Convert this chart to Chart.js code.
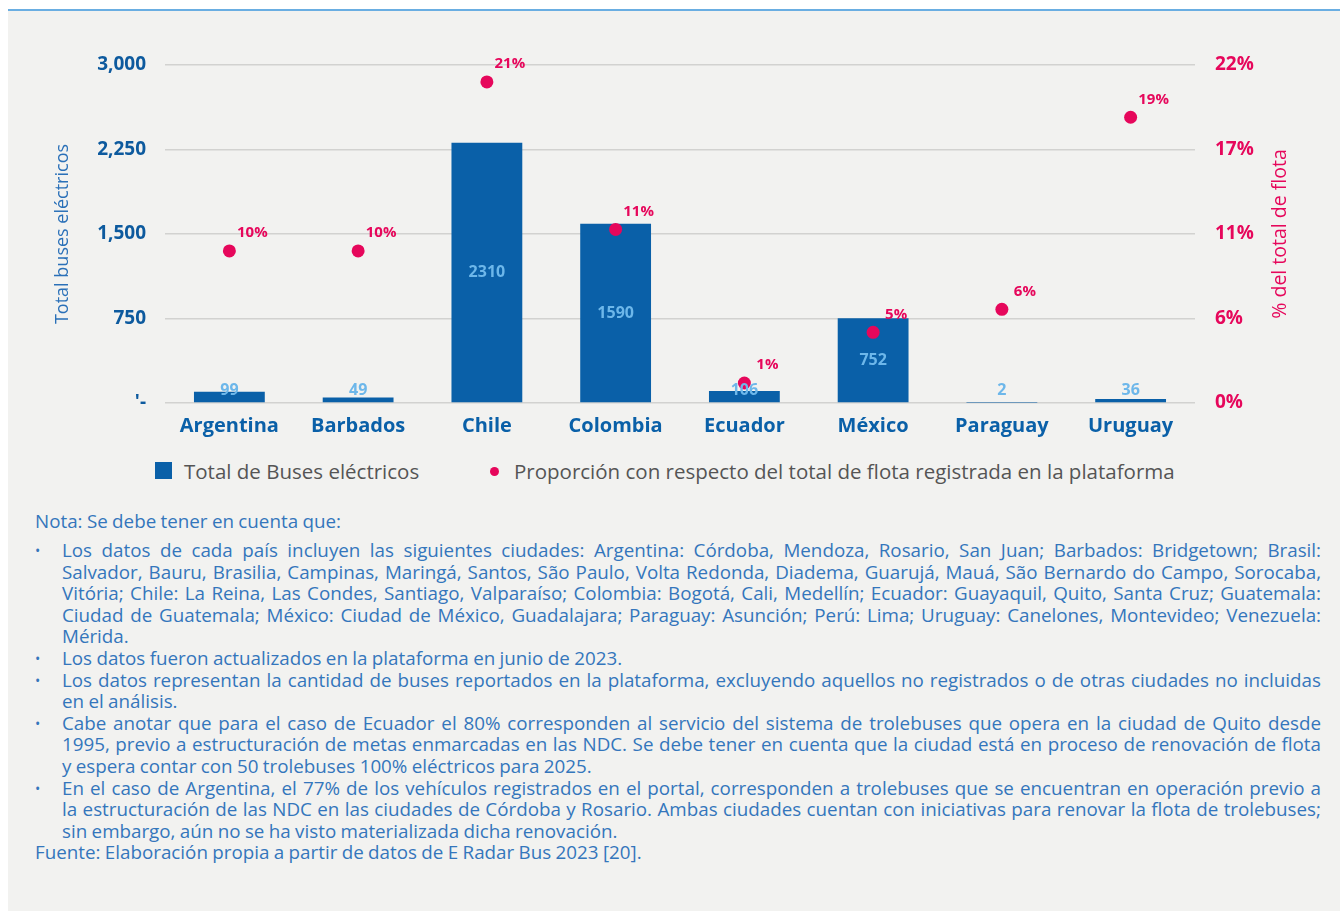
<!DOCTYPE html>
<html lang="es">
<head>
<meta charset="utf-8">
<title>Buses eléctricos por país</title>
<script src="https://cdn.jsdelivr.net/npm/chart.js@4.4.1/dist/chart.umd.min.js"></script>
<style>
    body { margin: 0; background: #ffffff; width: 1340px; height: 915px; position: relative; overflow: hidden; font-family: "Open Sans", sans-serif; }
    #page { position: absolute; left: 8px; top: 9px; right: 0; height: 900px; background: #f2f2f0; border-top: 2px solid #6aaee2; }
    #chart-box { position: absolute; left: 0; top: 2px; width: 1340px; height: 450px; }
    .legend { position: absolute; top: 459px; font-size: 20.5px; color: #555555; line-height: 24px; white-space: nowrap; }
    .legend .sq { position: absolute; left: -29px; top: 3px; width: 17px; height: 17px; background: #0a60a8; }
    .legend .dot { position: absolute; left: -24px; top: 8px; width: 9px; height: 9px; border-radius: 50%; background: #e6075b; }
    #notes { position: absolute; left: 35px; top: 511px; width: 1286px; font-family: "Open Sans", sans-serif; font-size: 18.8px; word-spacing: -0.5px; line-height: 21.6px; color: #3476bc; }
    #notes .nota { margin-bottom: 7.5px; }
    #notes ul { list-style: none; margin: 0; padding: 0; }
    #notes li { position: relative; padding-left: 27px; }
    #notes li::before { content: "•"; position: absolute; left: 0; top: 0; font-size: 14px; }
    #notes .ln { white-space: nowrap; }
    #notes .j { text-align: justify; text-align-last: justify; }
</style>
</head>
<body>
<div id="page"></div>
<div id="chart-box"><canvas id="buses-chart" width="1340" height="450"></canvas></div>

<div class="legend" style="left:184px;"><span class="sq"></span>Total de Buses eléctricos</div>
<div class="legend" style="left:514px;"><span class="dot"></span>Proporción con respecto del total de flota registrada en la plataforma</div>

<div id="notes">
    <div class="nota">Nota: Se debe tener en cuenta que:</div>
    <ul>
        <li>
            <div class="ln j">Los datos de cada país incluyen las siguientes ciudades: Argentina: Córdoba, Mendoza, Rosario, San Juan; Barbados: Bridgetown; Brasil:</div>
            <div class="ln j">Salvador, Bauru, Brasilia, Campinas, Maringá, Santos, São Paulo, Volta Redonda, Diadema, Guarujá, Mauá, São Bernardo do Campo, Sorocaba,</div>
            <div class="ln j">Vitória; Chile: La Reina, Las Condes, Santiago, Valparaíso; Colombia: Bogotá, Cali, Medellín; Ecuador: Guayaquil, Quito, Santa Cruz; Guatemala:</div>
            <div class="ln j">Ciudad de Guatemala; México: Ciudad de México, Guadalajara; Paraguay: Asunción; Perú: Lima; Uruguay: Canelones, Montevideo; Venezuela:</div>
            <div class="ln">Mérida.</div>
        </li>
        <li><div class="ln">Los datos fueron actualizados en la plataforma en junio de 2023.</div></li>
        <li>
            <div class="ln j">Los datos representan la cantidad de buses reportados en la plataforma, excluyendo aquellos no registrados o de otras ciudades no incluidas</div>
            <div class="ln">en el análisis.</div>
        </li>
        <li>
            <div class="ln j">Cabe anotar que para el caso de Ecuador el 80% corresponden al servicio del sistema de trolebuses que opera en la ciudad de Quito desde</div>
            <div class="ln j">1995, previo a estructuración de metas enmarcadas en las NDC. Se debe tener en cuenta que la ciudad está en proceso de renovación de flota</div>
            <div class="ln">y espera contar con 50 trolebuses 100% eléctricos para 2025.</div>
        </li>
        <li>
            <div class="ln j">En el caso de Argentina, el 77% de los vehículos registrados en el portal, corresponden a trolebuses que se encuentran en operación previo a</div>
            <div class="ln j">la estructuración de las NDC en las ciudades de Córdoba y Rosario. Ambas ciudades cuentan con iniciativas para renovar la flota de trolebuses;</div>
            <div class="ln">sin embargo, aún no se ha visto materializada dicha renovación.</div>
        </li>
    </ul>
    <div>Fuente: Elaboración propia a partir de datos de E Radar Bus 2023 [20].</div>
</div>

<script>
// Chart data
var paises = ['Argentina', 'Barbados', 'Chile', 'Colombia', 'Ecuador', 'México', 'Paraguay', 'Uruguay'];
var totalBuses = [99, 49, 2310, 1590, 106, 752, 2, 36];
var proporcionFlota = [9.9, 9.9, 20.9, 11.3, 1.3, 4.6, 6.1, 18.6];
var ticksBuses = [0, 750, 1500, 2250, 3000];
var ticksProporcion = [0, 5.5, 11, 16.5, 22];

var azul = '#0a60a8';
var azulClaro = '#6db7ea';
var rosa = '#e6075b';
var fuente = '"Open Sans", sans-serif';

// Plugin to write the values on the bars and next to the points,
// plus the right axis title (Chart.js turns it the other way)
var valueLabels = {
    id: 'valueLabels',
    afterDatasetsDraw: function (chart) {
        var ctx = chart.ctx;
        ctx.save();

        // Bar values
        var barMeta = chart.getDatasetMeta(0);
        ctx.font = 'bold 16px ' + fuente;
        ctx.fillStyle = azulClaro;
        ctx.textAlign = 'center';
        ctx.textBaseline = 'middle';
        barMeta.data.forEach(function (bar, i) {
            var y = Math.min((bar.y + bar.base) / 2, bar.base - 12);
            ctx.fillText(String(totalBuses[i]), bar.x, y);
        });

        // Point values
        var pointMeta = chart.getDatasetMeta(1);
        ctx.font = 'bold 15px ' + fuente;
        ctx.fillStyle = rosa;
        pointMeta.data.forEach(function (pt, i) {
            ctx.fillText(Math.round(proporcionFlota[i]) + '%', pt.x + 23, pt.y - 18);
        });

        // Right axis title, read from bottom to top
        var y1 = chart.scales.y1;
        ctx.font = '19.5px ' + fuente;
        ctx.translate(y1.right - 14, (y1.top + y1.bottom) / 2);
        ctx.rotate(-Math.PI / 2);
        ctx.fillText('% del total de flota', 0, 0);

        ctx.restore();
    }
};

var chart = new Chart(document.getElementById('buses-chart').getContext('2d'), {
    data: {
        labels: paises,
        datasets: [{
            type: 'bar',
            label: 'Total de Buses eléctricos',
            data: totalBuses,
            backgroundColor: azul,
            yAxisID: 'y',
            categoryPercentage: 1,
            barPercentage: 0.55,
            order: 1
        }, {
            type: 'line',
            label: 'Proporción con respecto del total de flota registrada en la plataforma',
            data: proporcionFlota,
            showLine: false,
            pointRadius: 6.5,
            pointBackgroundColor: rosa,
            pointBorderWidth: 0,
            yAxisID: 'y1',
            order: 0
        }]
    },
    options: {
        responsive: false,
        animation: false,
        devicePixelRatio: 1,
        layout: { padding: { left: 48, right: 46, top: 63, bottom: 0 } },
        plugins: {
            legend: { display: false },
            tooltip: { enabled: false }
        },
        scales: {
            x: {
                grid: { display: false },
                border: { display: false },
                ticks: { color: azul, font: { family: fuente, size: 20, weight: 'bold' }, padding: 3 },
                afterFit: function (scale) { scale.height = 49; }
            },
            y: {
                position: 'left',
                min: 0,
                max: 3000,
                afterBuildTicks: function (scale) {
                    scale.ticks = ticksBuses.map(function (v) { return { value: v }; });
                },
                grid: { color: '#d2d2d0', lineWidth: 1.5, drawTicks: false },
                border: { display: false },
                ticks: {
                    color: '#0d5a9e',
                    font: { family: fuente, size: 19, weight: 'bold' },
                    padding: 19,
                    callback: function (v) { return v === 0 ? "'-" : v.toLocaleString('en-US'); }
                },
                title: { display: true, text: 'Total buses eléctricos', color: '#2a70b8', font: { family: fuente, size: 18 } },
                afterFit: function (scale) { scale.width = 117; }
            },
            y1: {
                position: 'right',
                min: 0,
                max: 22,
                afterBuildTicks: function (scale) {
                    scale.ticks = ticksProporcion.map(function (v) { return { value: v }; });
                },
                grid: { display: false, drawTicks: false },
                border: { display: false },
                ticks: {
                    color: rosa,
                    font: { family: fuente, size: 19, weight: 'bold' },
                    padding: 20,
                    callback: function (v) { return Math.round(v) + '%'; }
                },
                afterFit: function (scale) { scale.width = 99; }
            }
        }
    },
    plugins: [valueLabels]
});
</script>
</body>
</html>
